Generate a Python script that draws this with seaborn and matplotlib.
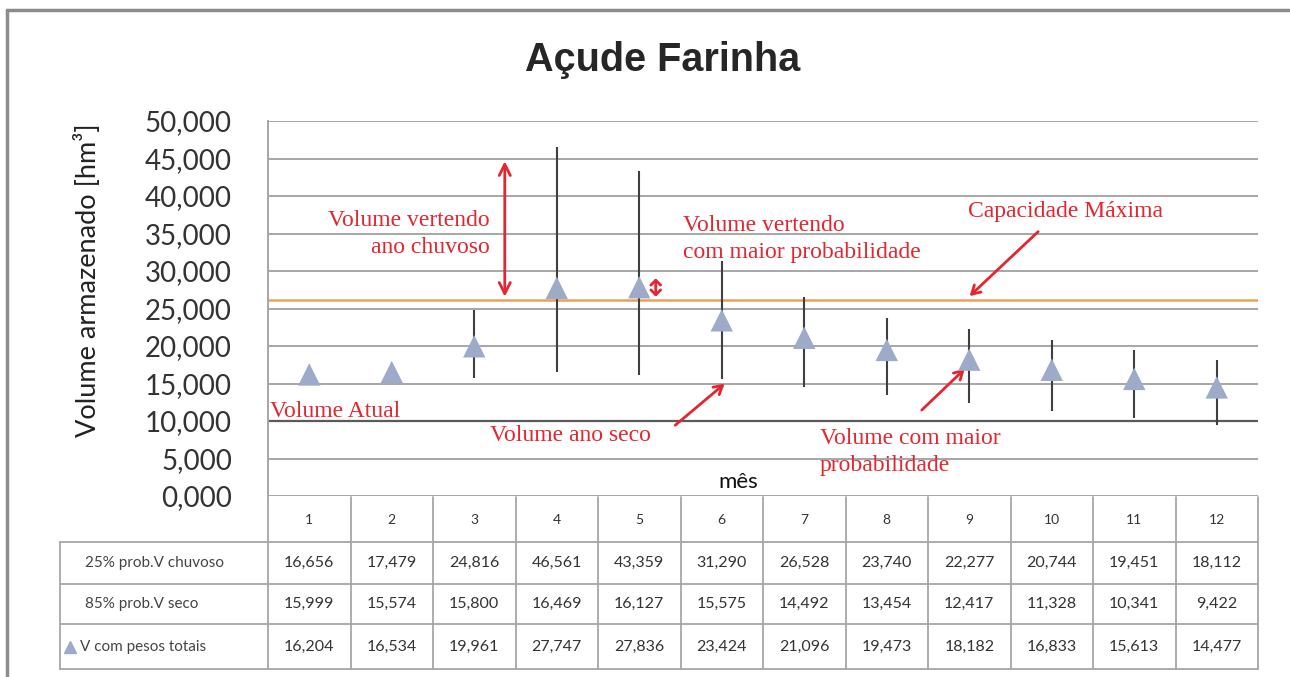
import numpy as np
import pandas as pd
import matplotlib.pyplot as plt
import matplotlib.transforms as mtransforms
from matplotlib.lines import Line2D
from matplotlib.ticker import FuncFormatter, MultipleLocator
import seaborn as sns

# dados do açude (hm³)
meses = list(range(1, 13))
v_chuvoso = [16.656, 17.479, 24.816, 46.561, 43.359, 31.290, 26.528, 23.740, 22.277, 20.744, 19.451, 18.112]
v_seco = [15.999, 15.574, 15.800, 16.469, 16.127, 15.575, 14.492, 13.454, 12.417, 11.328, 10.341, 9.422]
v_pesos = [16.204, 16.534, 19.961, 27.747, 27.836, 23.424, 21.096, 19.473, 18.182, 16.833, 15.613, 14.477]
capacidade = 26.2
volume_atual = 10.0
row_labels = ["25% prob.V chuvoso", "85% prob.V seco", "V com pesos totais"]

df = pd.DataFrame({"mes": meses, "chuvoso": v_chuvoso, "seco": v_seco, "pesos": v_pesos})

sns.set_style("white")
plt.rcParams['font.family'] = ['Lato', 'DejaVu Sans']

W, H = 1290, 677
fig = plt.figure(figsize=(W / 100, H / 100), dpi=100)
ax = fig.add_axes([268 / W, 1 - 496 / H, 990 / W, 375 / H])

def fx(x):
    return x / W

def fy(y):
    return 1 - y / H

red = '#E3262F'
grid_c = '#A6A6A6'
tab_c = '#A6A6A6'

# grid
for v in np.arange(0, 51, 5):
    ax.axhline(v, color=grid_c, lw=1.4, zorder=0)
ax.axhline(volume_atual, color='#5A5A5A', lw=1.6, zorder=1)
ax.axhline(capacidade, color='#EDA05A', lw=1.8, zorder=2)

# linhas max-min
ax.vlines(df["mes"], df["seco"], df["chuvoso"], color='#3F3F3F', lw=1.5, zorder=3)
sns.scatterplot(data=df, x="mes", y="pesos", marker='^', s=260, color='#9DABC9',
                edgecolor='none', ax=ax, zorder=4, legend=False)

ax.set_xlim(0.5, 12.5)
ax.set_ylim(0, 50)
ax.yaxis.set_major_locator(MultipleLocator(5))
ax.yaxis.set_major_formatter(FuncFormatter(lambda v, p: f"{v:.3f}".replace('.', ',')))
ax.tick_params(axis='y', labelsize=20, labelcolor='#333333', length=0, pad=26)
ax.set_xticks([])
ax.set_xlabel("")
ax.set_ylabel("Volume armazenado [hm³]", fontsize=19.5, color='#222222')
ax.yaxis.set_label_coords(-0.169, 0.576)
for s in ['top', 'right', 'bottom']:
    ax.spines[s].set_visible(False)
ax.spines['left'].set_color(grid_c)
ax.spines['left'].set_linewidth(1.4)

ax.text(6.2, 1.9, "mês", fontsize=16, ha='center', va='center', color='#111111')

fig.text(fx(663), fy(60), "Açude Farinha", fontsize=28.5, fontweight='bold',
         ha='center', va='center', family=['Liberation Sans', 'DejaVu Sans'])

# anotações
af = dict(family=['Liberation Serif', 'DejaVu Serif'], fontsize=17, color=red)
ax.text(3.19, 34.9, "Volume vertendo\nano chuvoso", ha='right', va='center', linespacing=1.35, **af)
ax.text(5.53, 34.3, "Volume vertendo\ncom maior probabilidade", ha='left', va='center', linespacing=1.35, **af)
ax.text(8.98, 37.9, "Capacidade Máxima", ha='left', va='center', **af)
ax.text(0.52, 11.3, "Volume Atual", ha='left', va='center', **af)
ax.text(3.19, 8.1, "Volume ano seco", ha='left', va='center', **af)
ax.text(7.19, 5.9, "Volume com maior\nprobabilidade", ha='left', va='center', linespacing=1.35, **af)

arr = dict(color=red, lw=2)
ax.annotate("", xy=(3.37, 45.0), xytext=(3.37, 26.2),
            arrowprops=dict(arrowstyle='<->,head_length=0.8,head_width=0.4', **arr))
ax.annotate("", xy=(5.2, 29.4), xytext=(5.2, 26.2),
            arrowprops=dict(arrowstyle='<->,head_length=0.35,head_width=0.35', **arr))
ax.annotate("", xy=(6.06, 15.2), xytext=(5.41, 9.2),
            arrowprops=dict(arrowstyle='->,head_length=0.6,head_width=0.35', **arr))
ax.annotate("", xy=(8.97, 17.2), xytext=(8.40, 11.2),
            arrowprops=dict(arrowstyle='->,head_length=0.6,head_width=0.35', **arr))
ax.annotate("", xy=(8.98, 26.4), xytext=(9.86, 35.5),
            arrowprops=dict(arrowstyle='->,head_length=0.6,head_width=0.35', **arr))

# tabela de dados
tr = mtransforms.blended_transform_factory(ax.transData, fig.transFigure)
row_y = [497, 542, 584, 624, 669]
x_left_lab = 0.5 - (268 - 60) / 82.5

def hline(y, x0, x1):
    fig.add_artist(Line2D([x0, x1], [fy(y), fy(y)], transform=tr, color=tab_c, lw=1.3))

def vline(x, y0, y1):
    fig.add_artist(Line2D([x, x], [fy(y0), fy(y1)], transform=tr, color=tab_c, lw=1.3))

for y in row_y[1:]:
    hline(y, x_left_lab, 12.5)
for k in range(13):
    vline(0.5 + k, row_y[0], row_y[-1])
vline(x_left_lab, row_y[1], row_y[-1])

for m in meses:
    fig.text(m, fy((row_y[0] + row_y[1]) / 2), str(m), transform=tr, ha='center', va='center',
             fontsize=10, color='#333333')

rows = [v_chuvoso, v_seco, v_pesos]
for i, vals in enumerate(rows):
    yc = fy((row_y[i + 1] + row_y[i + 2]) / 2)
    for m, v in zip(meses, vals):
        fig.text(m, yc, f"{v:.3f}".replace('.', ','), transform=tr, ha='center', va='center',
                 fontsize=11.5, color='#333333')
    fig.text(fx(85) if i < 2 else fx(80), yc, row_labels[i], ha='left', va='center',
             fontsize=11, color='#444444')

fig.add_artist(Line2D([fx(70)], [fy((row_y[3] + row_y[4]) / 2)], marker='^', markersize=8,
                      color='#9DABC9', transform=fig.transFigure, lw=0))

# moldura
fig.add_artist(Line2D([fx(7), fx(1290)], [fy(10), fy(10)], color='#8C8C8C', lw=2.5))
fig.add_artist(Line2D([fx(7), fx(7)], [fy(10), fy(677)], color='#8C8C8C', lw=2.5))

fig.savefig('out.png', dpi=100)
